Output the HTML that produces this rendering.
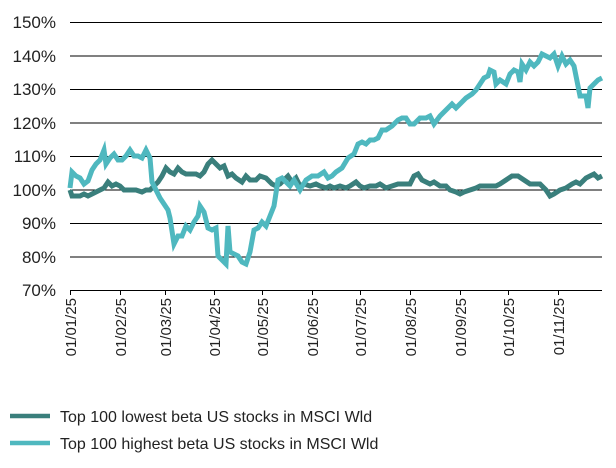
<!DOCTYPE html>
<html><head><meta charset="utf-8"><style>
html,body{margin:0;padding:0;background:#fff;}
svg{display:block;font-family:"Liberation Sans Narrow","Liberation Sans",sans-serif;}
</style></head><body>
<svg width="616" height="468" viewBox="0 0 616 468" xmlns="http://www.w3.org/2000/svg">
<g stroke="#000" stroke-width="1">
<line x1="70" y1="22.5" x2="602" y2="22.5"/>
<line x1="70" y1="56" x2="602" y2="56"/>
<line x1="70" y1="89.5" x2="602" y2="89.5"/>
<line x1="70" y1="123" x2="602" y2="123"/>
<line x1="70" y1="156.5" x2="602" y2="156.5"/>
<line x1="70" y1="190" x2="602" y2="190"/>
<line x1="70" y1="223.5" x2="602" y2="223.5"/>
<line x1="70" y1="257" x2="602" y2="257"/>
<line x1="70" y1="290.5" x2="602" y2="290.5"/>
<path d="M70.5 290v5M120.5 290v5M165.5 290v5M214.5 290v5M262.5 290v5M312.5 290v5M360.5 290v5M410.5 290v5M460.5 290v5M508.5 290v5M558.5 290v5"/>
</g>
<g font-size="17" fill="#222" text-anchor="end">
<text x="56" y="28">150%</text><text x="56" y="62">140%</text><text x="56" y="95">130%</text>
<text x="56" y="129">120%</text><text x="56" y="162">110%</text><text x="56" y="196">100%</text>
<text x="56" y="229">90%</text><text x="56" y="263">80%</text><text x="56" y="296">70%</text>
</g>
<g font-size="15" fill="#222" text-anchor="end">
<text transform="translate(76,298) rotate(-90)">01/01/25</text>
<text transform="translate(126,298) rotate(-90)">01/02/25</text>
<text transform="translate(171,298) rotate(-90)">01/03/25</text>
<text transform="translate(220,298) rotate(-90)">01/04/25</text>
<text transform="translate(268,298) rotate(-90)">01/05/25</text>
<text transform="translate(318,298) rotate(-90)">01/06/25</text>
<text transform="translate(366,298) rotate(-90)">01/07/25</text>
<text transform="translate(416,298) rotate(-90)">01/08/25</text>
<text transform="translate(466,298) rotate(-90)">01/09/25</text>
<text transform="translate(514,298) rotate(-90)">01/10/25</text>
<text transform="translate(564,298) rotate(-90)">01/11/25</text>
</g>
<polyline fill="none" stroke="#3a7f7c" stroke-width="5" stroke-linejoin="miter" points="70,190 72,196 76,196 80,196 84,194 88,196 92,194 96,192 100,190 104,188 108,182 112,186 116,184 120,186 124,190 130,190 136,190 142,192 146,190 150,190 154,186 158,182 162,176 166,168 170,172 174,174 178,168 182,172 186,174 190,174 196,174 200,176 204,172 208,164 212,160 216,164 220,168 224,166 228,176 232,174 236,178 242,182 246,176 250,180 256,180 260,176 266,178 272,184 276,186 280,184 284,180 288,176 292,182 296,178 300,186 304,184 310,186 316,184 320,186 326,188 330,186 334,188 340,186 346,188 350,186 356,182 360,186 364,188 370,186 376,186 380,184 386,188 392,186 398,184 404,184 410,184 414,176 418,174 422,180 426,182 430,184 434,182 440,186 446,186 450,190 456,192 460,194 464,192 470,190 476,188 480,186 486,186 492,186 496,186 500,184 506,180 512,176 518,176 524,180 530,184 540,184 546,190 550,196 554,194 560,190 566,188 572,184 576,182 580,184 586,178 590,176 594,174 598,178 602,176"/>
<polyline fill="none" stroke="#4fb8bf" stroke-width="5" stroke-linejoin="miter" points="70,188 72,172 76,176 80,178 84,184 88,181 92,170 96,164 100,160 104,150 106,164 110,158 114,154 118,160 122,160 126,156 130,150 134,156 138,156 142,158 146,150 150,158 152,182 156,190 160,198 164,204 168,210 170,218 174,244 178,236 182,236 186,226 190,230 194,222 198,216 200,206 204,212 208,228 212,230 216,228 218,256 222,260 226,264 228,226 230,252 234,254 238,256 242,262 246,264 250,252 254,230 258,228 262,222 266,226 270,216 274,206 278,180 282,178 286,182 290,186 294,180 300,190 306,180 312,176 318,176 324,172 328,178 332,176 336,172 342,168 348,158 354,154 358,144 362,142 366,144 370,140 374,140 378,138 382,130 386,130 392,126 398,120 402,118 406,118 410,124 414,124 420,118 426,118 430,116 434,124 440,116 446,110 452,104 456,108 460,104 466,98 472,94 476,90 480,84 484,78 488,76 490,70 494,72 496,84 500,80 506,84 510,74 514,70 518,72 520,82 522,64 526,70 530,62 534,66 538,62 542,54 546,56 550,58 554,54 558,66 562,56 566,64 570,60 574,66 578,86 580,96 586,96 588,108 590,88 594,84 598,80 602,78"/>
<line x1="10" y1="416" x2="50" y2="416" stroke="#3a7f7c" stroke-width="4.5"/>
<line x1="10" y1="443" x2="50" y2="443" stroke="#4fb8bf" stroke-width="4.5"/>
<g font-size="16" fill="#222">
<text x="60" y="422">Top 100 lowest beta US stocks in MSCI Wld</text>
<text x="60" y="449">Top 100 highest beta US stocks in MSCI Wld</text>
</g>
</svg>
</body></html>
